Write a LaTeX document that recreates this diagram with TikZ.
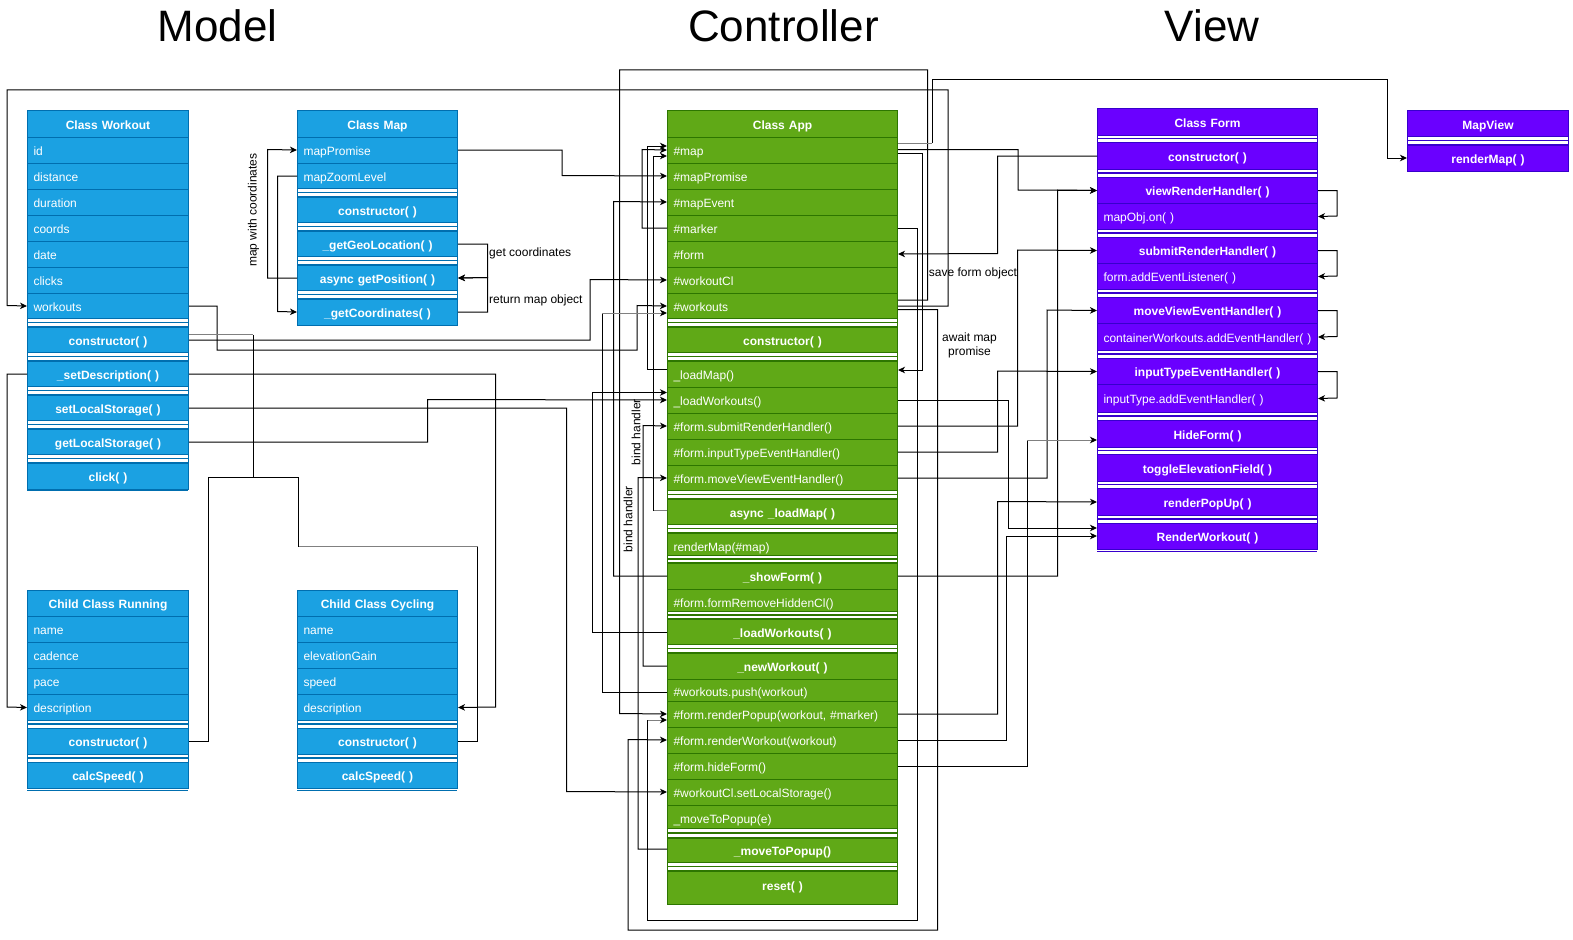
\documentclass[tikz,border=0pt]{standalone}
\usepackage{fontspec}
\setmainfont{Liberation Sans}
\usetikzlibrary{arrows.meta}
\definecolor{bfill}{HTML}{1BA1E2}\definecolor{bstroke}{HTML}{006EAF}
\definecolor{gfill}{HTML}{60A917}\definecolor{gstroke}{HTML}{2D7600}
\definecolor{pfill}{HTML}{6A00FF}\definecolor{pstroke}{HTML}{3700CC}
\definecolor{lgrey}{HTML}{808080}
\newcommand\rowfont{\fontsize{12}{14}\selectfont}
\newcommand\rowfontB{\fontsize{12}{14}\selectfont\bfseries}
\newcommand\setclass[5]{\def\cx{#1}\def\cw{#2}\def\ctw{#3}\def\cst{#4}\def\cfl{#5}}
\newcommand\rowL[5][]{\node[rowbase,align=left,#1,minimum height=#4pt] (#2) at (\cx,#3) {\mbox{#5}};}
\newcommand\rowC[5][]{\node[rowbase,align=center,font=\rowfontB,#1,minimum height=#4pt] (#2) at (\cx,#3) {\mbox{#5}};}
\newcommand\sepr[2]{\filldraw[draw=\cst, fill=white, line width=1pt] (\cx,#1) rectangle ({\cx+\cw},{#1+#2});
  \draw[draw=\cst, line width=1.3pt] (\cx,{#1+#2/2}) -- ({\cx+\cw},{#1+#2/2});}
\newcommand\bottomline[1]{\draw[draw=\cst, line width=1pt] (\cx,#1) -- ({\cx+\cw},#1);}
\begin{document}
\begin{tikzpicture}[x=1pt,y=-1pt,
  rowbase/.style={draw=\cst, fill=\cfl, text=white, line width=1pt, inner xsep=6pt, inner ysep=0pt,
    text height=11.4pt, text depth=1pt, anchor=north west, text width=\ctw, font=\rowfont},
  lower/.style={text height=13pt, text depth=0pt},
  higher/.style={text height=9.4pt, text depth=3pt},
  conn/.style={draw=black, line width=1pt},
  gconn/.style={draw=lgrey, line width=1pt},
  arr/.style={conn, -{Stealth[length=7pt,width=6.5pt,inset=2pt]}},
  garr/.style={gconn, -{Stealth[length=7pt,width=6.5pt,inset=2pt,color=black]}},
  lbl/.style={font=\rowfont, text=black, inner sep=0pt},
  title/.style={font=\fontsize{44}{52}\selectfont, anchor=base, inner sep=0pt}
]
\useasboundingbox (0,0) rectangle (1573,939);
\fill[white] (0,0) rectangle (1573,939);

% titles
\node[title] (t-model) at (217.7,42) {Model};
\node[title] (t-ctrl) at (783.5,42) {Controller};
\node[title] (t-view) at (1212,42) {View};

% ---------- Class Workout
\setclass{27}{161}{149pt}{bstroke}{bfill}
\rowC{wk-h}{110.5}{26}{Class Workout}
\rowL{wk-id}{136.5}{26}{id}
\rowL{wk-dist}{162.5}{26}{distance}
\rowL{wk-dur}{188.5}{26}{duration}
\rowL{wk-coords}{214.5}{26}{coords}
\rowL{wk-date}{240.5}{26}{date}
\rowL{wk-clicks}{266.5}{26}{clicks}
\rowL{wk-workouts}{292.5}{26}{workouts}
\sepr{318.5}{8}
\rowC{wk-con}{326.5}{26}{constructor( )}
\sepr{352.5}{8}
\rowC{wk-setdesc}{360.5}{26}{\_setDescription( )}
\sepr{386.5}{8}
\rowC{wk-setls}{394.5}{26}{setLocalStorage( )}
\sepr{420.5}{8}
\rowC{wk-getls}{428.5}{26}{getLocalStorage( )}
\sepr{454.5}{8}
\rowC{wk-click}{462.5}{26}{click( )}
\bottomline{490.5}

% ---------- Class Map
\setclass{297}{160}{148pt}{bstroke}{bfill}
\rowC{map-h}{110.5}{26}{Class Map}
\rowL{map-prom}{136.5}{26}{mapPromise}
\rowL{map-zoom}{162.5}{26}{mapZoomLevel}
\sepr{188.5}{8}
\rowC{map-con}{196.5}{26}{constructor( )}
\sepr{222.5}{8}
\rowC{map-geo}{230.5}{26}{\_getGeoLocation( )}
\sepr{256.5}{8}
\rowC{map-pos}{264.5}{26}{async getPosition( )}
\sepr{290.5}{8}
\rowC{map-coord}{298.5}{26}{\_getCoordinates( )}

% ---------- Running
\setclass{27}{161}{149pt}{bstroke}{bfill}
\rowC{run-h}{590}{26}{Child Class Running}
\rowL{run-name}{616}{26}{name}
\rowL{run-cad}{642}{26}{cadence}
\rowL{run-pace}{668}{26}{pace}
\rowL{run-desc}{694}{26}{description}
\sepr{720}{8}
\rowC{run-con}{728}{26}{constructor( )}
\sepr{754}{8}
\rowC{run-calc}{762}{26}{calcSpeed( )}
\bottomline{790}

% ---------- Cycling
\setclass{297}{160}{148pt}{bstroke}{bfill}
\rowC{cyc-h}{590}{26}{Child Class Cycling}
\rowL{cyc-name}{616}{26}{name}
\rowL{cyc-elev}{642}{26}{elevationGain}
\rowL{cyc-speed}{668}{26}{speed}
\rowL{cyc-desc}{694}{26}{description}
\sepr{720}{8}
\rowC{cyc-con}{728}{26}{constructor( )}
\sepr{754}{8}
\rowC{cyc-calc}{762}{26}{calcSpeed( )}
\bottomline{790}

% ---------- Class App
\setclass{667}{230}{218pt}{gstroke}{gfill}
\rowC{app-h}{110.5}{26}{Class App}
\rowL{app-map}{136.5}{26}{\#map}
\rowL{app-prom}{162.5}{26}{\#mapPromise}
\rowL{app-mapevent}{188.5}{26}{\#mapEvent}
\rowL{app-marker}{214.5}{26}{\#marker}
\rowL{app-form}{240.5}{26}{\#form}
\rowL{app-workoutCl}{266.5}{26}{\#workoutCl}
\rowL{app-workouts}{292.5}{26}{\#workouts}
\sepr{318.5}{8}
\rowC{app-con}{326.5}{26}{constructor( )}
\sepr{352.5}{8}
\rowL{app-loadmap}{360.5}{26}{\_loadMap()}
\rowL{app-loadwk}{386.5}{26}{\_loadWorkouts()}
\rowL{app-submit}{412.5}{26}{\#form.submitRenderHandler()}
\rowL{app-input}{438.5}{26}{\#form.inputTypeEventHandler()}
\rowL{app-moveview}{464.5}{26}{\#form.moveViewEventHandler()}
\sepr{490.5}{8}
\rowC{app-async}{498.5}{26}{async \_loadMap( )}
\sepr{524.5}{8}
\rowL[lower]{app-rendermap}{532.5}{23}{renderMap(\#map)}
\sepr{555.5}{7}
\rowC{app-showform}{562.5}{26}{\_showForm( )}
\rowL[lower]{app-formremove}{588.5}{23}{\#form.formRemoveHiddenCl()}
\sepr{611.5}{7}
\rowC{app-loadwk2}{618.5}{26}{\_loadWorkouts( )}
\sepr{644.5}{8}
\rowC{app-newwk}{652.5}{26}{\_newWorkout( )}
\rowL[lower]{app-push}{678.5}{22}{\#workouts.push(workout)}
\rowL{app-popup}{700.5}{26}{\#form.renderPopup(workout, \#marker)}
\rowL{app-renderwk}{726.5}{26}{\#form.renderWorkout(workout)}
\rowL{app-hide}{752.5}{26}{\#form.hideForm()}
\rowL{app-setls}{778.5}{26}{\#workoutCl.setLocalStorage()}
\rowL[lower]{app-movee}{804.5}{24}{\_moveToPopup(e)}
\sepr{828.5}{9}
\rowC{app-movepop}{837.5}{25}{\_moveToPopup()}
\sepr{862.5}{8}
\rowC[higher]{app-reset}{870.5}{33}{reset( )}

% ---------- Class Form
\setclass{1097}{220}{208pt}{pstroke}{pfill}
\rowC{form-h}{108}{27}{Class Form}
\sepr{135}{7}
\rowC{form-con}{142}{27}{constructor( )}
\sepr{169}{8}
\rowC{form-view}{177}{26}{viewRenderHandler( )}
\rowL{form-mapobj}{203}{26}{mapObj.on( )}
\sepr{229}{8}
\rowC{form-submit}{237}{26}{submitRenderHandler( )}
\rowL{form-formadd}{263}{26}{form.addEventListener( )}
\sepr{289}{8}
\rowC{form-move}{297}{26}{moveViewEventHandler( )}
\rowL{form-container}{323}{27}{containerWorkouts.addEventHandler( )}
\sepr{350}{8}
\rowC{form-input}{358}{26}{inputTypeEventHandler( )}
\rowL{form-inputadd}{384}{28}{inputType.addEventHandler( )}
\sepr{412}{8}
\rowC{form-hide}{420}{27}{HideForm( )}
\sepr{447}{7}
\rowC{form-toggle}{454}{27}{toggleElevationField( )}
\sepr{481}{7}
\rowC{form-popup}{488}{27}{renderPopUp( )}
\sepr{515}{8}
\rowC{form-renderwk}{523}{26}{RenderWorkout( )}
\bottomline{551}

% ---------- MapView
\setclass{1407}{161}{149pt}{pstroke}{pfill}
\rowC{mv-h}{110.5}{26}{MapView}
\sepr{136.5}{8}
\rowC{mv-render}{144.5}{26}{renderMap( )}

% ================= connectors
% Model
\draw[arr] (app-workouts.east) -| (948,90) -| (7,305.5) -- (wk-workouts.west);
\draw[arr] (wk-con.east) -| (590,279.5) -- (app-workoutCl.west);
\draw[arr] (wk-workouts.east) -| (217,350) -| (637,305.5) -- (app-workouts.west);
\draw[conn] (run-con.east) -| (208,477) -| (253,334.5);
\draw[gconn] (253,334.5) -- (wk-con.east |- 0,334.5);
\draw[conn] (cyc-con.east) -| (477.5,546.5);
\draw[gconn] (477.5,546.5) -- (298.5,546.5);
\draw[conn] (298.5,546.5) |- (253,477);
\draw[arr] (wk-setdesc.west) -| (7,707) -- (run-desc.west);
\draw[arr] (wk-setdesc.east) -| (495.5,707) -- (cyc-desc.east);
\draw[arr] (wk-setls.east) -| (566.5,791.5) -- (app-setls.west);
\draw[arr] (wk-getls.east) -| (427.5,399.5) -- (app-loadwk.west);
% Map
\draw[arr] (map-prom.east) -| (562,175.5) -- (app-prom.west);
\draw[arr] (map-pos.west) -| (267.5,149.5) -- (map-prom.west);
\draw[arr] (map-zoom.west) -| (277.5,311.5) -- (map-coord.west);
\draw[arr] (map-geo.east) -| (487.5,277.5) -- (map-pos.east);
\draw[arr] (map-coord.east) -| (487.5,277.5) -- (map-pos.east);
% App left side
\draw[arr] (app-loadmap.west |- 0,369.5) -| (647.5,146) -- (app-map.west |- 0,146);
\draw[arr] (app-marker.west) -| (642,149.5) -- (app-map.west);
\draw[gconn] (app-async.west |- 0,510.5) -- (653,510.5);
\draw[arr] (653,510.5) |- (app-map.west |- 0,156);
\draw[arr] (app-showform.west) -| (613.5,201.5) -- (app-mapevent.west);
\draw[arr] (app-workouts.east |- 0,300) -| (927.5,70) -| (619.5,713.5) -- (app-popup.west);
\draw[conn] (app-marker.east) -| (917.5,920) -| (647.5,720);
\draw[garr] (647.5,720) -- (app-popup.west |- 0,720);
\draw[arr] (app-workouts.east |- 0,309.5) -| (937.5,930) -| (628,739.5) -- (app-renderwk.west);
\draw[arr] (app-loadwk2.west) -| (592,392.5) -- (app-loadwk.west |- 0,392.5);
\draw[conn] (app-push.west |- 0,692) -| (602,313);
\draw[garr] (602,313) -- (app-workouts.west |- 0,313);
\draw[arr] (app-newwk.west) -| (643,425.5) -- (app-submit.west);
\draw[arr] (app-movepop.west |- 0,849) -| (638,477.5) -- (app-moveview.west);
% App right side
\draw[gconn] (app-map.east |- 0,143) -- (932,143);
\draw[arr] (932,143) |- (1387,80) |- (mv-render.west);
\draw[arr] (app-map.east |- 0,149.5) -| (1018,190) -- (form-view.west);
\draw[arr] (app-map.east |- 0,153.5) -| (922.5,370) -- (app-loadmap.east |- 0,370);
\draw[arr] (form-con.west) -| (997.5,253.5) -- (app-form.east);
\draw[arr] (app-submit.east) -| (1017.5,250) -- (form-submit.west);
\draw[arr] (app-showform.east) -| (1057.5,190) -- (form-view.west);
\draw[arr] (app-moveview.east) -| (1047,310) -- (form-move.west);
\draw[arr] (app-input.east) -| (997.5,371) -- (form-input.west);
\draw[arr] (app-loadwk.east) -| (1008.5,528) -- (form-renderwk.west |- 0,528);
\draw[conn] (app-hide.east) -| (1027,440);
\draw[garr] (1027,440) -- (form-hide.west |- 0,440);
\draw[arr] (app-popup.east) -| (997.5,501.5) -- (form-popup.west);
\draw[arr] (app-renderwk.east) -| (1006,536) -- (form-renderwk.west |- 0,536);
% Form self loops
\draw[arr] (form-view.east) -| (1337,216) -- (form-mapobj.east);
\draw[arr] (form-submit.east) -| (1337,276) -- (form-formadd.east);
\draw[arr] (form-move.east) -| (1337,336.5) -- (form-container.east);
\draw[arr] (form-input.east) -| (1337,398) -- (form-inputadd.east);

% labels
\node[lbl, rotate=90] (l-mapcoord) at (253.5,210) {map with coordinates};
\node[lbl, anchor=west] (l-getc) at (489,253) {get coordinates};
\node[lbl, anchor=west] (l-ret) at (489,300) {return map object};
\node[lbl] (l-save) at (973,273) {save form object};
\node[lbl, align=center] (l-await) at (969.5,345) {await map\\promise};
\node[lbl, rotate=90] (l-bind1) at (636,432) {bind handler};
\node[lbl, rotate=90] (l-bind2) at (628,519) {bind handler};
\end{tikzpicture}
\end{document}
